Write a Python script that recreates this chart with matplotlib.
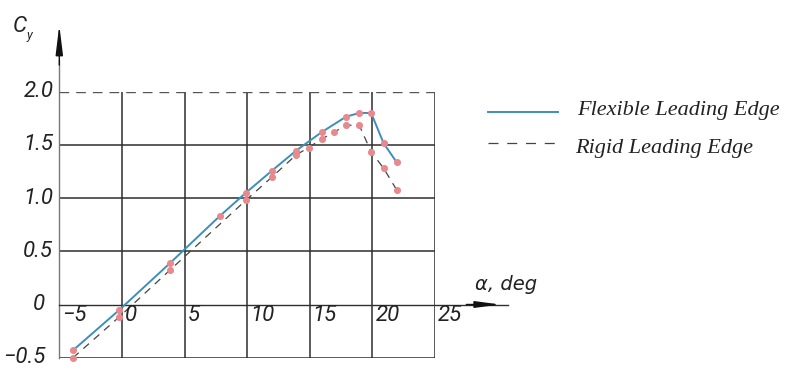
import matplotlib.pyplot as plt
import matplotlib.transforms as mtransforms

# angle of attack (deg) and lift coefficient
alpha_flex = [-3.9, -0.2, 3.85, 7.8, 9.9, 11.95, 13.9, 15.95, 17.9, 18.95, 19.9, 20.9, 21.95]
cy_flex = [-0.43, -0.05, 0.39, 0.83, 1.05, 1.255, 1.445, 1.62, 1.765, 1.80, 1.80, 1.515, 1.335]

alpha_rigid = [-3.9, -0.2, 3.85, 9.9, 11.95, 13.9, 14.9, 15.95, 16.95, 17.9, 18.95, 19.9, 20.9, 21.95]
cy_rigid = [-0.50, -0.115, 0.325, 0.98, 1.195, 1.405, 1.475, 1.555, 1.62, 1.685, 1.685, 1.435, 1.28, 1.075]

x_ticks = [-5, 0, 5, 10, 15, 20, 25]
y_ticks = [-0.5, 0, 0.5, 1.0, 1.5, 2.0]
y_labels = ["\u22120.5", "0", "0.5", "1.0", "1.5", "2.0"]

W, H = 787, 371
fig = plt.figure(figsize=(W / 100, H / 100), dpi=100)
left, right, bottom, top = 59.3, 435, 357.7, 91.7
ax = fig.add_axes([left / W, 1 - bottom / H, (right - left) / W, (bottom - top) / H])
ax.set_xlim(-5, 25)
ax.set_ylim(-0.5, 2.0)
ax.axis("off")

grid_c = "#2e2e2e"
narrow = ["Roboto", "DejaVu Sans"]

# grid
for x in x_ticks[1:]:
    ax.plot([x, x], [-0.5, 2.0], color=grid_c, lw=1.1, zorder=1)
for y in [-0.5, 0.5, 1.0, 1.5]:
    ax.plot([-5, 25], [y, y], color=grid_c, lw=1.1, zorder=1)
ax.plot([-5, 25], [2.0, 2.0], color="#555555", lw=1.0, ls=(0, (7, 5)), zorder=1)

# axes with arrows
ax.plot([-5, -5], [-0.5, 2.3], color="#777777", lw=1.0, clip_on=False)
ax.annotate("", xy=(-5, 2.627), xytext=(-5, 2.25),
            arrowprops=dict(arrowstyle="-|>,head_length=1.8,head_width=0.22",
                            color="#111111", lw=1.0, shrinkA=0, shrinkB=0),
            annotation_clip=False)
ax.plot([-5, 30.8], [0, 0], color=grid_c, lw=1.0, clip_on=False)
ax.annotate("", xy=(30.2, 0), xytext=(27.5, 0),
            arrowprops=dict(arrowstyle="-|>,head_length=1.5,head_width=0.2",
                            color="#111111", lw=1.0, shrinkA=0, shrinkB=0),
            annotation_clip=False)

# curves
ax.plot(alpha_flex, cy_flex, color="#3d8fb8", lw=1.4, zorder=3, clip_on=False)
ax.plot(alpha_rigid, cy_rigid, color="#444444", lw=0.9, ls=(0, (6, 5)), zorder=3, clip_on=False)
ax.scatter(alpha_flex, cy_flex, s=26, color="#e8898e", zorder=4, clip_on=False, lw=0)
ax.scatter(alpha_rigid, cy_rigid, s=26, color="#e8898e", zorder=4, clip_on=False, lw=0)

# tick labels
off_x = mtransforms.offset_copy(ax.transData, fig=fig, x=3, y=-11, units="dots")
for x in x_ticks:
    lab = "\u2212" + str(-x) if x < 0 else str(x)
    ax.text(x, 0, lab, transform=off_x, ha="left", va="center", fontsize=16,
            style="italic", family=narrow, color="#222222")
for y, lab in zip(y_ticks, y_labels):
    dx = -14 if y <= 0 else -6
    off_y = mtransforms.offset_copy(ax.transData, fig=fig, x=dx, y=0, units="dots")
    ax.text(-5, y, lab, transform=off_y, ha="right", va="center", fontsize=16,
            style="italic", family=narrow, color="#222222")

# axis titles
fig.text(13 / W, 1 - 26 / H, "C", fontsize=16, style="italic", family=narrow,
         color="#222222", va="center", ha="left")
fig.text(27 / W, 1 - 36 / H, "y", fontsize=9, style="italic", family=narrow,
         color="#222222", va="center", ha="left")
fig.text(475 / W, 1 - 285 / H, "\u03b1, deg", fontsize=14, style="italic",
         family=["DejaVu Sans"], color="#222222", va="center", ha="left")

# legend
fig.add_artist(plt.Line2D([488 / W, 558 / W], [1 - 112 / H, 1 - 112 / H],
                          color="#3d8fb8", lw=1.4))
fig.add_artist(plt.Line2D([488 / W, 558 / W], [1 - 143 / H, 1 - 143 / H],
                          color="#444444", lw=0.9, ls=(0, (8, 7))))
serif = ["Liberation Serif", "DejaVu Serif"]
fig.text(577 / W, 1 - 110 / H, "Flexible Leading Edge", fontsize=16, style="italic",
         family=serif, color="#222222", va="center", ha="left")
fig.text(575 / W, 1 - 148 / H, "Rigid Leading Edge", fontsize=16, style="italic",
         family=serif, color="#222222", va="center", ha="left")

fig.savefig("out.png", dpi=100)
plt.close(fig)
